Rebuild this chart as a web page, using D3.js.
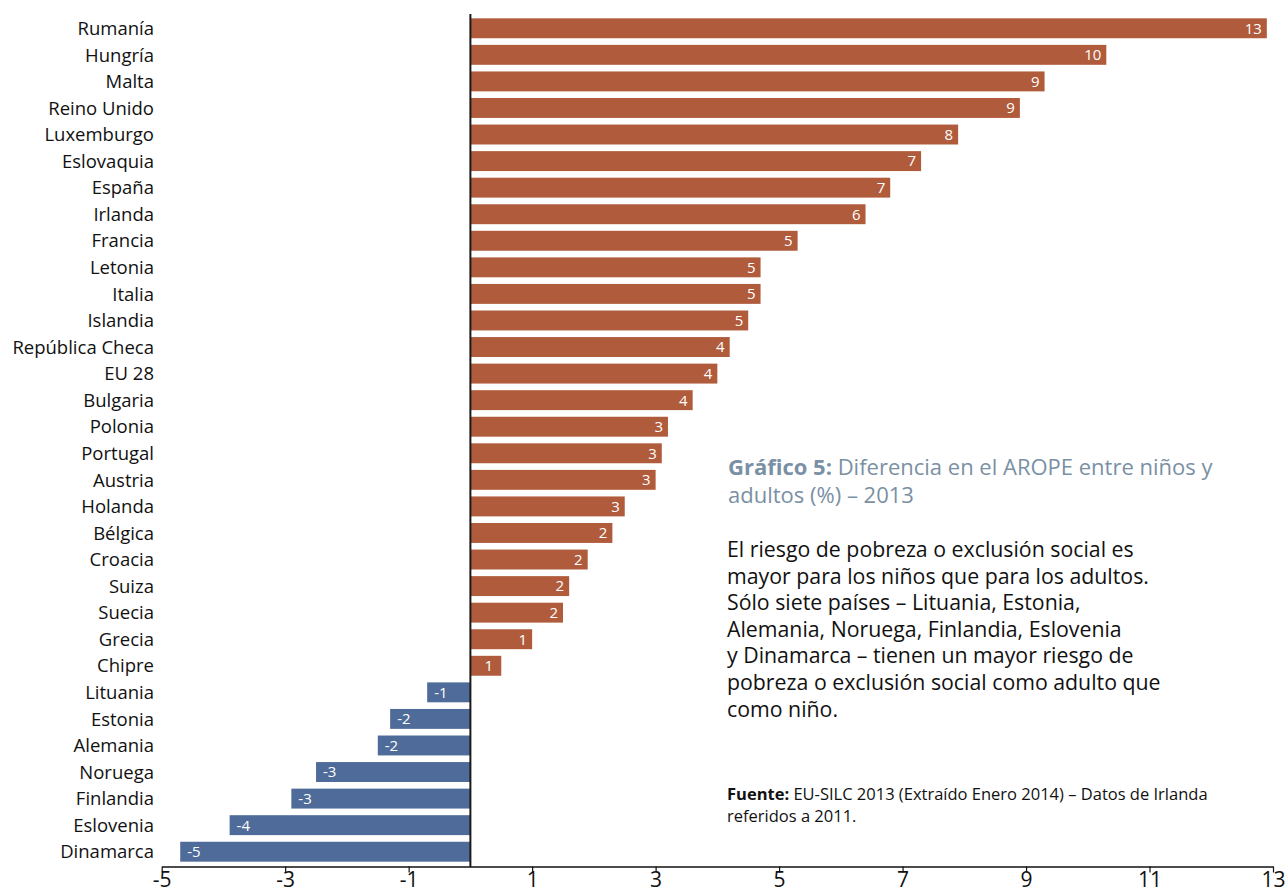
<!DOCTYPE html>
<html>
<head>
<meta charset="utf-8">
<script src="https://cdn.jsdelivr.net/npm/d3@7"></script>
<style>
  body { margin: 0; background: #fff; }
  text { font-family: "Open Sans", "Lato", sans-serif; }
</style>
</head>
<body>
<div class="canva"></div>
<script>
const countries = ["Rumanía", "Hungría", "Malta", "Reino Unido", "Luxemburgo", "Eslovaquia", "España",
  "Irlanda", "Francia", "Letonia", "Italia", "Islandia", "República Checa", "EU 28", "Bulgaria",
  "Polonia", "Portugal", "Austria", "Holanda", "Bélgica", "Croacia", "Suiza", "Suecia", "Grecia",
  "Chipre", "Lituania", "Estonia", "Alemania", "Noruega", "Finlandia", "Eslovenia", "Dinamarca"];

const values = [12.9, 10.3, 9.3, 8.9, 7.9, 7.3, 6.8, 6.4, 5.3, 4.7, 4.7, 4.5, 4.2, 4.0, 3.6,
  3.2, 3.1, 3.0, 2.5, 2.3, 1.9, 1.6, 1.5, 1.0, 0.5, -0.7, -1.3, -1.5, -2.5, -2.9, -3.9, -4.7];

const valueLabels = ["13", "10", "9", "9", "8", "7", "7", "6", "5", "5", "5", "5", "4", "4", "4",
  "3", "3", "3", "3", "2", "2", "2", "2", "1", "1", "-1", "-2", "-2", "-3", "-3", "-4", "-5"];

const xTicks = [-5, -3, -1, 1, 3, 5, 7, 9, 11, 13];

const data = countries.map((c, i) => ({ name: c, value: values[i], label: valueLabels[i] }));

const svg = d3.select(".canva").append("svg")
    .attr("width", 1285)
    .attr("height", 894);

const x = d3.scaleLinear().domain([-5, 13]).range([161.7, 1273]);
const y = d3.scaleBand().domain(countries).range([15, 865])
    .paddingInner(0.25).paddingOuter(0.125);

// bars
svg.selectAll("rect.bar")
    .data(data)
    .enter().append("rect")
    .attr("class", "bar")
    .attr("x", d => x(Math.min(0, d.value)))
    .attr("y", d => y(d.name))
    .attr("width", d => Math.abs(x(d.value) - x(0)))
    .attr("height", y.bandwidth())
    .attr("fill", d => d.value >= 0 ? "#b05b3b" : "#4f6b99");

// value labels
svg.selectAll("text.val")
    .data(data)
    .enter().append("text")
    .attr("class", "val")
    .text(d => d.label)
    .attr("fill", "#fff")
    .attr("font-size", 15)
    .attr("dy", "0.36em")
    .attr("y", d => y(d.name) + y.bandwidth() / 2)
    .attr("x", d => {
      const w = Math.abs(x(d.value) - x(0));
      if (d.value < 0) return x(d.value) + 7;
      if (w < 40) return x(0) + w / 2 + 3;
      return x(d.value) - 5;
    })
    .attr("text-anchor", d => {
      const w = Math.abs(x(d.value) - x(0));
      if (d.value < 0) return "start";
      if (w < 40) return "middle";
      return "end";
    });

// category labels
svg.selectAll("text.cat")
    .data(data)
    .enter().append("text")
    .attr("class", "cat")
    .text(d => d.name)
    .attr("x", 154)
    .attr("y", d => y(d.name) + y.bandwidth() / 2)
    .attr("dy", "0.36em")
    .attr("text-anchor", "end")
    .attr("font-size", 18.5)
    .attr("fill", "#111");

// x axis
const axis = svg.append("g")
    .attr("transform", "translate(0,866.5)")
    .call(d3.axisBottom(x).tickValues(xTicks).tickSize(6).tickSizeOuter(0)
      .tickFormat(d => String(d)));
axis.select(".domain").attr("stroke", "#111").attr("stroke-width", 1.5);
axis.selectAll(".tick line").attr("stroke", "#111").attr("stroke-width", 1.2);
axis.selectAll(".tick text")
    .attr("font-family", "'Open Sans', sans-serif")
    .attr("font-size", 21)
    .attr("fill", "#111")
    .attr("y", 20)
    .attr("dy", 0);

// zero line
svg.append("line")
    .attr("x1", x(0)).attr("x2", x(0))
    .attr("y1", 14).attr("y2", 867)
    .attr("stroke", "#1a1a1a")
    .attr("stroke-width", 2);

// title
const title = svg.append("text")
    .attr("x", 728).attr("y", 475)
    .attr("font-size", 22)
    .attr("fill", "#7a90a4");
title.append("tspan").attr("font-weight", "bold").text("Gráfico 5:");
title.append("tspan").text(" Diferencia en el AROPE entre niños y");
svg.append("text")
    .attr("x", 728).attr("y", 503)
    .attr("font-size", 22)
    .attr("fill", "#7a90a4")
    .text("adultos (%) – 2013");

// body text
const body = [
  "El riesgo de pobreza o exclusión social es",
  "mayor para los niños que para los adultos.",
  "Sólo siete países – Lituania, Estonia,",
  "Alemania, Noruega, Finlandia, Eslovenia",
  "y Dinamarca – tienen un mayor riesgo de",
  "pobreza o exclusión social como adulto que",
  "como niño."
];
svg.selectAll("text.body")
    .data(body)
    .enter().append("text")
    .attr("class", "body")
    .attr("x", 727)
    .attr("y", (d, i) => 557 + i * 26.6)
    .attr("font-size", 21.3)
    .attr("fill", "#111")
    .text(d => d);

// source
const src = svg.append("text")
    .attr("x", 727).attr("y", 800)
    .attr("font-size", 16.5)
    .attr("fill", "#111");
src.append("tspan").attr("font-weight", "bold").text("Fuente:");
src.append("tspan").text(" EU-SILC 2013 (Extraído Enero 2014) – Datos de Irlanda");
svg.append("text")
    .attr("x", 727).attr("y", 822)
    .attr("font-size", 16.5)
    .attr("fill", "#111")
    .text("referidos a 2011.");
</script>
</body>
</html>
